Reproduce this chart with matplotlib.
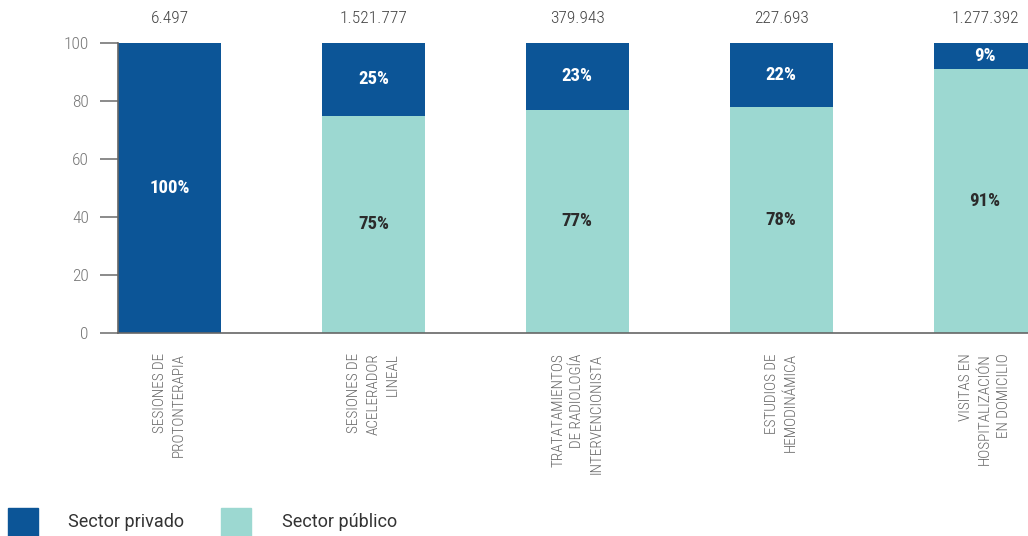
import numpy as np
import matplotlib
matplotlib.use("Agg")
import matplotlib.pyplot as plt
from matplotlib import font_manager
from matplotlib.patches import Rectangle

## Data
categorias = ["SESIONES DE\nPROTONTERAPIA",
              "SESIONES DE\nACELERADOR\nLINEAL",
              "TRATATAMIENTOS\nDE RADIOLOGÍA\nINTERVENCIONISTA",
              "ESTUDIOS DE\nHEMODINÁMICA",
              "VISITAS EN\nHOSPITALIZACIÓN\nEN DOMICILIO"]
publico = [0, 75, 77, 78, 91]
privado = [100, 25, 23, 22, 9]
totales = ["6.497", "1.521.777", "379.943", "227.693", "1.277.392"]
yticks = [0, 20, 40, 60, 80, 100]

c_privado = "#0c5597"
c_publico = "#9cd8d1"

## Pick a narrow family if one is around
names = {f.name for f in font_manager.fontManager.ttflist}
narrow = next((n for n in ["Roboto Condensed", "Liberation Sans Narrow", "Open Sans Condensed"]
               if n in names), "DejaVu Sans")
stretch = "condensed"

fig = plt.figure(figsize=(10.28, 5.36), dpi=100)
ax = fig.add_axes([118/1028, 1-333/536, 1-118/1028, 290/536])

x = np.arange(len(categorias))
w = 0.505
ax.bar(x, publico, w, color=c_publico, zorder=2)
ax.bar(x, privado, w, bottom=publico, color=c_privado, zorder=2)

ax.set_xlim(-w/2, 4.21)
ax.set_ylim(0, 100)

## Percent labels in the middle of each segment
for i in range(len(x)):
    if publico[i] > 0:
        ax.text(x[i], publico[i]/2, f"{publico[i]}%", ha="center", va="center",
                fontsize=13.5, fontweight="bold", color="#2b2b2b",
                family=narrow, fontstretch=stretch)
    ax.text(x[i], publico[i] + privado[i]/2, f"{privado[i]}%", ha="center", va="center",
            fontsize=13.5, fontweight="bold", color="white",
            family=narrow, fontstretch=stretch)
    ax.text(x[i], 106, totales[i], ha="center", va="bottom", fontsize=12.5,
            color="#444444", family=narrow, fontweight="light", clip_on=False)
    ax.text(x[i], -7, categorias[i], rotation=90, ha="center", va="top",
            multialignment="right", fontsize=11, color="#666666",
            family=narrow, fontweight="light", linespacing=1.45)

## Axes styling
for s in ["top", "right"]:
    ax.spines[s].set_visible(False)
ax.spines["left"].set_color("#666666")
ax.spines["bottom"].set_color("#666666")
ax.spines["left"].set_linewidth(1.2)
ax.spines["bottom"].set_linewidth(1.2)
ax.set_xticks([])
ax.set_yticks(yticks)
ax.tick_params(axis="y", length=13, width=1.2, color="#777777", pad=8,
               labelsize=12.5, labelcolor="#777777")
for lab in ax.get_yticklabels():
    lab.set_family(narrow)
    lab.set_fontweight("light")

## Legend drawn by hand at the bottom left
fig.patches.append(Rectangle((8/1028, 0), 30/1028, 28/536, transform=fig.transFigure,
                             color=c_privado))
fig.patches.append(Rectangle((221/1028, 0), 30/1028, 28/536, transform=fig.transFigure,
                             color=c_publico))
fig.text(68/1028, 1-522/536, "Sector privado", fontsize=13, color="#333333",
         va="center", family="Roboto")
fig.text(282/1028, 1-522/536, "Sector público", fontsize=13, color="#333333",
         va="center", family="Roboto")

fig.savefig("out.png", dpi=100)
